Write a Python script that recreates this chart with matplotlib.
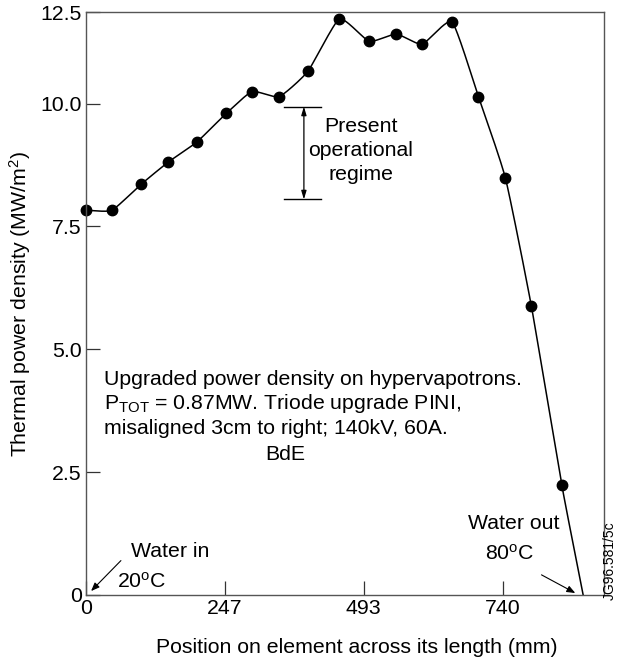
import numpy as np
import matplotlib.pyplot as plt

plt.rcParams['font.family'] = ['Liberation Sans', 'DejaVu Sans']
plt.rcParams['mathtext.default'] = 'regular'

# Measured points along the element
position_mm = [0, 46, 98, 146, 197, 249, 295, 343, 394, 450, 503, 551, 597,
               650, 697, 745, 791, 845]
power_density = [7.83, 7.83, 8.36, 8.81, 9.22, 9.80, 10.33, 10.19, 10.88,
                 12.31, 11.70, 11.90, 11.62, 12.23, 10.19, 8.48, 5.88, 2.24]

# Curve runs down to zero at the water-out end
end_mm = 883
end_density = 0.0

x_ticks = [0, 247, 493, 740]
y_ticks = [0, 2.5, 5.0, 7.5, 10.0, 12.5]
y_tick_labels = ['0', '2.5', '5.0', '7.5', '10.0', '12.5']

# Present operational regime band
regime_low, regime_high = 8.05, 9.94

FS = 15.3
XMAX = 920

# the original axis is drawn compressed above 10.0
K = 91 / 122.0


def fwd(v):
    v = np.asarray(v, float)
    return np.where(v <= 10, v, 10 + (v - 10) * K)


def inv(v):
    v = np.asarray(v, float)
    return np.where(v <= 10, v, 10 + (v - 10) / K)


def cardinal(P, tension=0.5, n=40):
    # cardinal spline: rounded corners, nearly straight between the dots
    P = np.vstack([2 * P[0] - P[1], P, 2 * P[-1] - P[-2]])
    m = (1 - tension) * (P[2:] - P[:-2]) / 2
    Q = P[1:-1]
    t = np.linspace(0, 1, n)[:, None]
    h00 = 2 * t**3 - 3 * t**2 + 1
    h10 = t**3 - 2 * t**2 + t
    h01 = -2 * t**3 + 3 * t**2
    h11 = t**3 - t**2
    out = [h00 * Q[i] + h10 * m[i] + h01 * Q[i + 1] + h11 * m[i + 1]
           for i in range(len(Q) - 1)]
    return np.vstack(out)


fig = plt.figure(figsize=(6.21, 6.59), dpi=100)
ax = fig.add_axes([86 / 621, 1 - 595 / 659, 518 / 621, 583 / 659])
ax.set_yscale('function', functions=(fwd, inv))

# smooth line computed in screen proportions so it looks even
sx = 518 / XMAX
sy = 583 / float(fwd(12.5))
cx = np.array(position_mm + [end_mm], float)
cy = np.array(power_density + [end_density], float)
pts = np.column_stack([cx * sx, fwd(cy) * sy])
curve = cardinal(pts)
ax.plot(curve[:, 0] / sx, inv(curve[:, 1] / sy), color='black', lw=1.1)
ax.plot(position_mm, power_density, 'o', color='black', ms=7.5, clip_on=False)

ax.set_xlim(0, XMAX)
ax.set_ylim(0, 12.5)
ax.set_xticks(x_ticks)
ax.set_xticklabels([str(v) for v in x_ticks])
ax.set_yticks(y_ticks)
ax.set_yticklabels(y_tick_labels)
ax.minorticks_off()
ax.tick_params(direction='in', length=10, width=0.9, labelsize=FS,
               color='#333333', pad=3)
for s in ax.spines.values():
    s.set_color('#555555')
    s.set_linewidth(1.0)

ax.set_xlabel('Position on element across its length (mm)', fontsize=FS)
ax.xaxis.set_label_coords(0.523, -0.073)
ax.set_ylabel('Thermal power density (MW/m$^{2}$)', fontsize=FS)
ax.yaxis.set_label_coords(-0.102, 0.5)

# operational regime marker
for yv in (regime_low, regime_high):
    ax.plot([352, 418], [yv, yv], color='black', lw=1.0)
ax.annotate('', xy=(387, regime_high), xytext=(387, regime_low),
            arrowprops=dict(arrowstyle='<|-|>,head_length=0.5,head_width=0.15',
                            color='black', lw=0.9, shrinkA=0, shrinkB=0))
ax.text(488, 9.05, 'Present\noperational\nregime', ha='center', va='center',
        fontsize=FS, linespacing=1.35)

# description block
lines = ['Upgraded power density on hypervapotrons.',
         'P$_{TOT}$ = 0.87MW. Triode upgrade PINI,',
         'misaligned 3cm to right; 140kV, 60A.']
for txt, yb in zip(lines, [4.28, 3.79, 3.28]):
    ax.text(32, yb, txt, ha='left', va='baseline', fontsize=FS)
ax.text(354, 2.75, 'BdE', ha='center', va='baseline', fontsize=FS)

# water in / out
ax.text(80, 0.88, 'Water in', ha='left', va='center', fontsize=FS)
ax.text(55, 0.27, '20$^{o}$C', ha='left', va='center', fontsize=FS)
ax.annotate('', xy=(9, 0.08), xytext=(62, 0.70),
            arrowprops=dict(arrowstyle='-|>,head_length=0.5,head_width=0.2',
                            color='black', lw=0.8, shrinkA=0, shrinkB=0))
ax.text(759, 1.46, 'Water out', ha='center', va='center', fontsize=FS)
ax.text(753, 0.84, '80$^{o}$C', ha='center', va='center', fontsize=FS)
ax.annotate('', xy=(869, 0.04), xytext=(809, 0.41),
            arrowprops=dict(arrowstyle='-|>,head_length=0.5,head_width=0.2',
                            color='black', lw=0.8, shrinkA=0, shrinkB=0))

fig.text(610 / 621, 1 - 600 / 659, 'JG96.581/5c', rotation=90,
         ha='center', va='bottom', fontsize=10)

fig.savefig('out.png', dpi=100)
